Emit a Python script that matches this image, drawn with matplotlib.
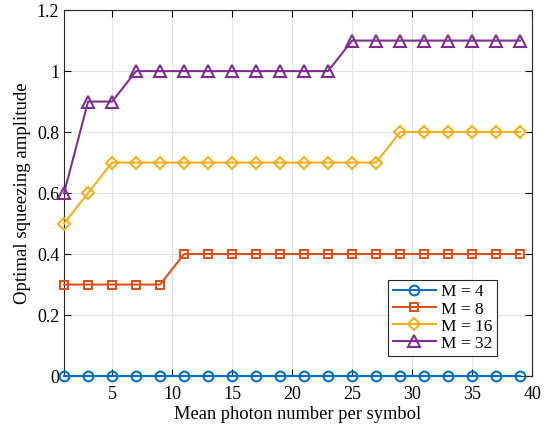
import matplotlib
matplotlib.use('Agg')
import matplotlib.pyplot as plt

# mean photon number per symbol
photons = [1, 3, 5, 7, 9, 11, 13, 15, 17, 19, 21, 23, 25, 27, 29, 31, 33, 35, 37, 39]

sq_m4 = [0.0] * 20
sq_m8 = [0.3, 0.3, 0.3, 0.3, 0.3, 0.4, 0.4, 0.4, 0.4, 0.4,
         0.4, 0.4, 0.4, 0.4, 0.4, 0.4, 0.4, 0.4, 0.4, 0.4]
sq_m16 = [0.5, 0.6, 0.7, 0.7, 0.7, 0.7, 0.7, 0.7, 0.7, 0.7,
          0.7, 0.7, 0.7, 0.7, 0.8, 0.8, 0.8, 0.8, 0.8, 0.8]
sq_m32 = [0.6, 0.9, 0.9, 1.0, 1.0, 1.0, 1.0, 1.0, 1.0, 1.0,
          1.0, 1.0, 1.1, 1.1, 1.1, 1.1, 1.1, 1.1, 1.1, 1.1]

labels = ['M = 4', 'M = 8', 'M = 16', 'M = 32']
colors = ['#0072BD', '#D95319', '#EDB120', '#7E2F8E']
markers = ['o', 's', 'D', '^']
msizes = [7, 6, 6, 8]

plt.rcParams['font.family'] = ['Liberation Serif', 'DejaVu Serif']

fig = plt.figure(figsize=(5.5, 4.32), dpi=100)
ax = fig.add_axes([0.1165, 0.1296, 0.851, 0.847])

for ys, lab, c, m, ms in zip([sq_m4, sq_m8, sq_m16, sq_m32], labels, colors, markers, msizes):
    ax.plot(photons, ys, color=c, marker=m, markersize=ms, markerfacecolor='none',
            markeredgewidth=1.5, linewidth=1.5, label=lab, clip_on=False, zorder=3)

ax.set_xlim(1, 40)
ax.set_ylim(0, 1.2)
ax.set_xticks([5, 10, 15, 20, 25, 30, 35, 40])
ax.set_yticks([0, 0.2, 0.4, 0.6, 0.8, 1.0, 1.2])
ax.set_yticklabels(['0', '0.2', '0.4', '0.6', '0.8', '1', '1.2'])
ax.grid(True, color='#e3e3e3', linewidth=0.8)
ax.set_axisbelow(True)
ax.tick_params(direction='in', top=True, right=True, labelsize=13, length=5)
ax.tick_params(axis='x', pad=7)
for sp in ax.spines.values():
    sp.set_linewidth(0.8)
    sp.set_color('#262626')

ax.set_xlabel('Mean photon number per symbol', fontsize=13.3, labelpad=2)
ax.set_ylabel('Optimal squeezing amplitude', fontsize=13.6, labelpad=4)

leg = ax.legend(loc='lower right', bbox_to_anchor=(0.925, 0.055), borderaxespad=0,
                fontsize=12.5, fancybox=False, edgecolor='#262626', framealpha=1,
                handlelength=2.5, borderpad=0.25, labelspacing=0.05, handletextpad=0.3)
leg.get_frame().set_linewidth(0.8)

fig.savefig('out.png', dpi=100)
